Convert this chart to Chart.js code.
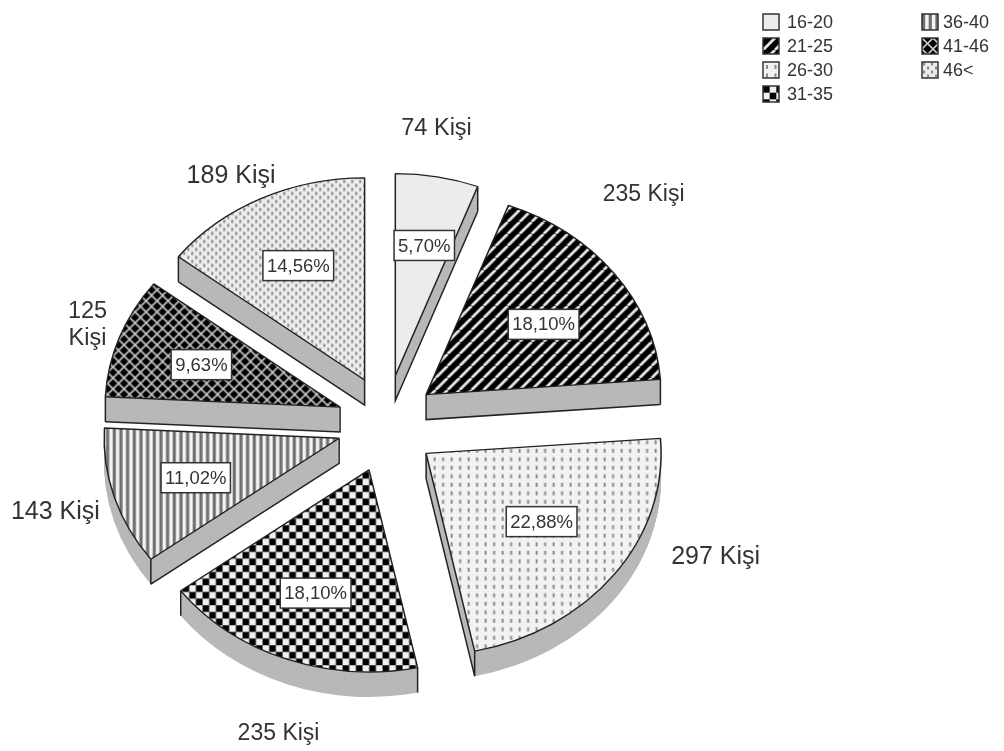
<!DOCTYPE html>
<html>
<head>
<meta charset="utf-8">
<title>Yaş dağılımı</title>
<script src="https://cdn.jsdelivr.net/npm/chart.js@4/dist/chart.umd.min.js"></script>
<style>
  html, body { margin: 0; padding: 0; background: #fff; }
  #wrap { position: absolute; left: 0; top: 0; width: 1004px; height: 751px; }
  #pie { filter: blur(0.45px); }
</style>
</head>
<body>
<div id="wrap"><canvas id="pie" width="1004" height="751"></canvas></div>
<script>
const categories = ['16-20', '21-25', '26-30', '31-35', '36-40', '41-46', '46<'];
const kisi = [74, 235, 297, 235, 143, 125, 189];
const percentLabels = ['5,70%', '18,10%', '22,88%', '18,10%', '11,02%', '9,63%', '14,56%'];

// look of the fake 3d pie
const SQUASH = 0.86, EXPLODE_X = 49.5, EXPLODE_Y = 57, DEPTH = 25, WALL = '#b8b8b8', LINE = '#222', TEXT = '#333';
const FONT = '"Liberation Sans", Arial, sans-serif';
// nudges of the texts from their computed spots
const kisiNudge = [[-9, -9], [-8, -54], [64, -42], [9, 37], [-14, 3], [12, 1], [-9, 14]];
const kisiFontPx = [23.5, 23, 25, 23, 25, 23.5, 25];
const percentNudge = [[3, -7], [1, 5], [-1, -7], [-2, 6], [-4, 3], [-2, 1], [-2, -2]];

function tile(w, h, paint) {
  const c = document.createElement('canvas');
  c.width = w; c.height = h;
  paint(c.getContext('2d'));
  const p = c.getContext('2d').createPattern(c, 'repeat');
  // arcs are filled under the squash transform, undo it for the pattern
  p.setTransform(new DOMMatrix().scale(1, 1 / SQUASH));
  return p;
}
function bg(g, col, w, h) { g.fillStyle = col; g.fillRect(0, 0, w, h); }

const patterns = [
  tile(4, 4, g => bg(g, '#ececec', 4, 4)),
  tile(12, 12, g => {
    bg(g, '#000', 12, 12);
    g.strokeStyle = '#e4e4e4'; g.lineWidth = 2.8;
    for (let i = -12; i <= 24; i += 12) { g.beginPath(); g.moveTo(i, 12); g.lineTo(i + 12, 0); g.stroke(); }
  }),
  tile(17, 17, g => {
    bg(g, '#f2f2f2', 17, 17);
    g.fillStyle = '#8a8a8a';
    [[3, 3], [11.5, 3], [3, 11.5], [11.5, 11.5]].forEach(p => g.fillRect(p[0], p[1], 2, 4));
  }),
  tile(40, 40, g => {
    bg(g, '#f0f0f0', 40, 40);
    g.fillStyle = '#000';
    const s = 40 / 6;
    for (let r = 0; r < 6; r++) for (let c = 0; c < 6; c++) if ((r + c) % 2 === 0) g.fillRect(c * s, r * s, s, s);
  }),
  tile(20, 2, g => {
    bg(g, '#f4f4f4', 20, 2);
    g.fillStyle = '#707070';
    for (let i = 0; i < 3; i++) g.fillRect(i * 20 / 3, 0, 3.2, 2);
  }),
  tile(11, 11, g => {
    bg(g, '#000', 11, 11);
    g.strokeStyle = '#c8c8c8'; g.lineWidth = 1.6;
    for (let i = -11; i <= 22; i += 11) {
      g.beginPath(); g.moveTo(i, 0); g.lineTo(i + 11, 11); g.stroke();
      g.beginPath(); g.moveTo(i, 11); g.lineTo(i + 11, 0); g.stroke();
    }
  }),
  tile(8, 8, g => {
    bg(g, '#ededed', 8, 8);
    g.fillStyle = '#8c8c8c';
    g.fillRect(1, 0.5, 2.2, 3); g.fillRect(5, 4.5, 2.2, 3);
  })
];

function shiftFor(arc) {
  const mid = (arc.startAngle + arc.endAngle) / 2;
  return { x: EXPLODE_X * Math.cos(mid), y: EXPLODE_Y * Math.sin(mid) };
}
// canvas point of polar (r, a) on a pulled-out slice
function slicePoint(arc, r, a) {
  const s = shiftFor(arc);
  return {
    x: arc.x + s.x + r * Math.cos(a),
    y: arc.y + SQUASH * (s.y + r * Math.sin(a))
  };
}
function squashed(ctx, arc, dy, fn) {
  const s = shiftFor(arc);
  ctx.save();
  ctx.translate(arc.x, arc.y + dy);
  ctx.scale(1, SQUASH);
  ctx.translate(-arc.x + s.x, -arc.y + s.y);
  fn();
  ctx.restore();
}

const pie3d = {
  id: 'pie3d',
  beforeDatasetDraw(chart, args) {
    const ctx = chart.ctx;
    const arcs = chart.getDatasetMeta(args.index).data;
    // back slices first so the front ones sit on top of the walls
    arcs.map((a, i) => i).sort((a, b) => slicePoint(arcs[a], 0, 0).y - slicePoint(arcs[b], 0, 0).y).forEach(i => {
      const arc = arcs[i];
      const wedge = () => {
        ctx.beginPath();
        ctx.moveTo(arc.x, arc.y);
        ctx.arc(arc.x, arc.y, arc.outerRadius, arc.startAngle, arc.endAngle);
        ctx.closePath();
      };
      for (let d = DEPTH; d >= 1; d--) {
        squashed(ctx, arc, d, () => { wedge(); ctx.fillStyle = WALL; ctx.fill(); });
      }
      const apex = slicePoint(arc, 0, 0);
      ctx.save();
      ctx.strokeStyle = LINE; ctx.lineWidth = 1.5;
      // cut faces: only the ones that look down towards the viewer
      [[arc.startAngle, Math.cos(arc.startAngle) < 0], [arc.endAngle, Math.cos(arc.endAngle) > 0]].forEach(e => {
        const p = slicePoint(arc, arc.outerRadius, e[0]);
        if (e[1]) {
          ctx.beginPath();
          ctx.moveTo(apex.x, apex.y); ctx.lineTo(apex.x, apex.y + DEPTH);
          ctx.lineTo(p.x, p.y + DEPTH); ctx.stroke();
        }
        if (e[1] || Math.sin(e[0]) > 0) {
          ctx.beginPath();
          ctx.moveTo(p.x, p.y); ctx.lineTo(p.x, p.y + DEPTH); ctx.stroke();
        }
      });
      ctx.restore();
      squashed(ctx, arc, 0, () => arc.draw(ctx));
    });
    return false;
  },
  afterDraw(chart) {
    const ctx = chart.ctx;
    const arcs = chart.getDatasetMeta(0).data;
    ctx.save();
    ctx.textBaseline = 'middle';
    ctx.textAlign = 'center';
    arcs.forEach((arc, i) => {
      const mid = (arc.startAngle + arc.endAngle) / 2;
      // percent box
      const c = slicePoint(arc, arc.outerRadius * 0.62, mid);
      c.x += percentNudge[i][0]; c.y += percentNudge[i][1];
      ctx.font = '18.5px ' + FONT;
      const w = ctx.measureText(percentLabels[i]).width + 8, h = 30;
      ctx.fillStyle = '#fff'; ctx.fillRect(c.x - w / 2, c.y - h / 2, w, h);
      ctx.strokeStyle = '#333'; ctx.lineWidth = 1.5; ctx.strokeRect(c.x - w / 2, c.y - h / 2, w, h);
      ctx.fillStyle = TEXT; ctx.fillText(percentLabels[i], c.x, c.y + 1);
      // person count outside
      const o = slicePoint(arc, arc.outerRadius * 1.2, mid);
      const tx = o.x + kisiNudge[i][0], ty = o.y + kisiNudge[i][1];
      ctx.font = kisiFontPx[i] + 'px ' + FONT;
      ctx.fillStyle = TEXT;
      if (kisi[i] === 125) {
        ctx.fillText(String(kisi[i]), tx, ty - 13);
        ctx.fillText('Kişi', tx, ty + 14);
      } else {
        ctx.fillText(kisi[i] + ' Kişi', tx, ty);
      }
    });
    // legend, two columns, four rows
    ctx.textAlign = 'left';
    ctx.font = '18px ' + FONT;
    categories.forEach((cat, i) => {
      const col = i < 4 ? 0 : 1, row = i < 4 ? i : i - 4;
      const x = col ? 922 : 763, y = 14 + row * 24;
      ctx.save();
      ctx.translate(x, y);
      ctx.scale(1, SQUASH);
      ctx.fillStyle = patterns[i];
      ctx.fillRect(0, 0, 16, 16 / SQUASH);
      ctx.restore();
      ctx.strokeStyle = '#333'; ctx.lineWidth = 1.5;
      ctx.strokeRect(x, y, 16, 16);
      ctx.fillStyle = TEXT;
      ctx.fillText(cat, x + (col ? 21 : 24), y + 9);
    });
    ctx.restore();
  }
};

new Chart(document.getElementById('pie'), {
  type: 'pie',
  data: {
    labels: categories,
    datasets: [{
      data: kisi,
      backgroundColor: patterns,
      borderColor: LINE,
      borderWidth: 1.5,
      radius: 235
    }]
  },
  options: {
    responsive: false,
    animation: false,
    layout: { padding: { left: 0, right: 231, top: 97, bottom: 0 } },
    plugins: { legend: { display: false }, tooltip: { enabled: false } }
  },
  plugins: [pie3d]
});
</script>
</body>
</html>
